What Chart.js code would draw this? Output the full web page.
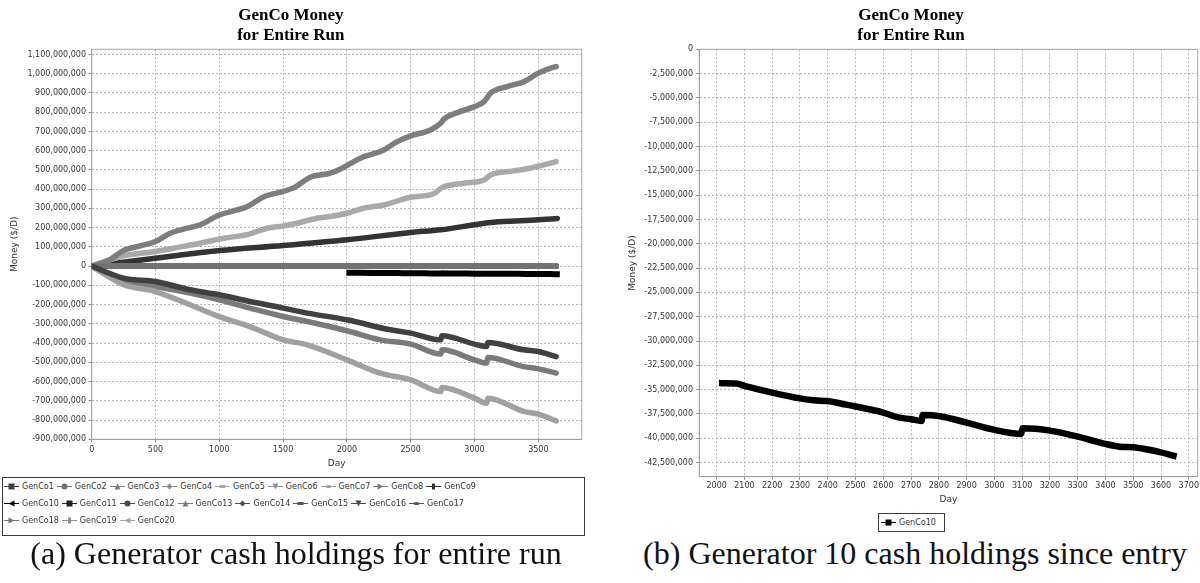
<!DOCTYPE html>
<html>
<head>
<meta charset="utf-8">
<script src="https://cdn.jsdelivr.net/npm/chart.js@4.4.1/dist/chart.umd.min.js"></script>
<style>
  html, body { margin:0; padding:0; background:#fff; }
  body { width:1200px; height:583px; position:relative; overflow:hidden; }
  canvas.chart { position:absolute; top:0; }
  #moneyAll { left:0; }
  #moneyG10 { left:623px; }
  .legend { position:absolute; box-sizing:border-box; border:1px solid #3a3a3a; background:#fff;
            font-family:"DejaVu Sans", sans-serif; font-size:8px; color:#333; }
  .legend .rows { display:flex; flex-wrap:wrap; }
  .legend .item { display:flex; align-items:center; height:17px; margin-right:3px; white-space:nowrap; }
  .legend .item canvas { margin-right:3px; }
  #legendAll { left:2px; top:477px; width:583px; height:59px; padding:0 0 0 1px; }
  #legendAll .rows { width:500px; }
  #legendG10 { left:878px; top:513px; width:67px; height:19px; padding:0 0 0 2px; }
  #legendG10 .item { height:17px; }
  .caption { position:absolute; font-family:"Liberation Serif", serif; font-size:32px; line-height:36px;
             color:#111; white-space:nowrap; transform:translateX(-50%); top:535px; }
  #capA { left:296px; }
  #capB { left:915px; }
</style>
</head>
<body>
<canvas id="moneyAll" class="chart" width="590" height="472"></canvas>
<canvas id="moneyG10" class="chart" width="577" height="506"></canvas>
<div id="legendAll" class="legend"><div class="rows"></div></div>
<div id="legendG10" class="legend"><div class="rows"></div></div>
<div id="capA" class="caption">(a) Generator cash holdings for entire run</div>
<div id="capB" class="caption">(b) Generator 10 cash holdings since entry</div>
<script>
// Money held by each generator company, as [day, millions of dollars]
const MILLION = 1e6;

const genco1 = [[0,0],[250,-62],[500,-80],[770,-123],[1000,-149],[1240,-184],[1500,-218],[1690,-244],
  [2000,-279],[2340,-331],[2500,-348],[2735,-383],[2745,-362],[3000,-405],[3095,-418],[3105,-397],
  [3385,-435],[3500,-444],[3640,-470]];
const genco3 = [[0,0],[140,33],[250,81],[380,105],[500,128],[615,171],[720,192],[850,215],[1000,266],
  [1140,292],[1220,310],[1350,361],[1500,388],[1585,408],[1715,462],[1870,483],[1950,505],[2105,561],
  [2290,604],[2395,647],[2500,677],[2655,708],[2735,743],[2760,764],[2865,798],[3000,829],[3075,855],
  [3125,899],[3255,933],[3390,959],[3500,1003],[3570,1023],[3640,1037]];
const genco5 = [[0,0],[250,53],[500,76],[640,93],[850,119],[1035,145],[1215,163],[1375,197],[1500,209],
  [1610,223],[1765,249],[1870,258],[2000,275],[2130,301],[2290,318],[2500,358],[2680,376],[2745,408],
  [2915,431],[3075,448],[3125,474],[3305,495],[3435,509],[3640,543]];
const genco7 = [[0,0],[250,-97],[500,-132],[770,-201],[1000,-262],[1240,-314],[1500,-383],[1690,-409],
  [2000,-487],[2260,-556],[2500,-591],[2735,-652],[2745,-631],[3000,-686],[3095,-712],[3105,-686],
  [3385,-755],[3500,-769],[3640,-804]];
const genco8 = [[0,0],[250,-76],[500,-106],[770,-140],[1000,-175],[1240,-218],[1500,-262],[1690,-288],
  [2000,-336],[2260,-383],[2500,-405],[2735,-457],[2745,-435],[3000,-487],[3095,-504],[3105,-475],
  [3385,-522],[3500,-534],[3640,-556]];
const genco9 = [[0,0],[500,41],[1000,81],[1500,107],[2000,137],[2500,175],[2735,189],[3000,215],
  [3125,227],[3500,241],[3650,248]];
// GenCo10 enters the market around day 2020
const genco10 = [[2020,-34.33],[2070,-34.36],[2100,-34.6],[2200,-35.3],[2300,-35.9],[2350,-36.1],
  [2400,-36.17],[2450,-36.45],[2500,-36.73],[2600,-37.35],[2650,-37.83],[2700,-38.04],[2738,-38.21],
  [2742,-37.6],[2800,-37.7],[2900,-38.39],[3000,-39.14],[3066,-39.48],[3096,-39.55],[3102,-38.97],
  [3200,-39.21],[3300,-39.83],[3400,-40.58],[3450,-40.86],[3500,-40.93],[3546,-41.13],[3600,-41.44],
  [3645,-41.79]];
// companies that never earn or lose money
const idleGenco = [[0,0],[3640,0]];

const gencoNames = ['GenCo1','GenCo2','GenCo3','GenCo4','GenCo5','GenCo6','GenCo7','GenCo8','GenCo9','GenCo10',
  'GenCo11','GenCo12','GenCo13','GenCo14','GenCo15','GenCo16','GenCo17','GenCo18','GenCo19','GenCo20'];
const gencoSeries = [genco1, idleGenco, genco3, idleGenco, genco5, idleGenco, genco7, genco8, genco9, genco10,
  idleGenco, idleGenco, idleGenco, idleGenco, idleGenco, idleGenco, idleGenco, idleGenco, idleGenco, idleGenco];

// axis ticks
const allDayTicks = [0, 500, 1000, 1500, 2000, 2500, 3000, 3500];
const allMoneyTicks = [-900e6,-800e6,-700e6,-600e6,-500e6,-400e6,-300e6,-200e6,-100e6,0,
  100e6,200e6,300e6,400e6,500e6,600e6,700e6,800e6,900e6,1000e6,1100e6];
const g10DayTicks = [2000,2100,2200,2300,2400,2500,2600,2700,2800,2900,3000,3100,3200,3300,3400,3500,3600,3700];
const g10MoneyTicks = [0,-2.5e6,-5e6,-7.5e6,-10e6,-12.5e6,-15e6,-17.5e6,-20e6,-22.5e6,-25e6,-27.5e6,
  -30e6,-32.5e6,-35e6,-37.5e6,-40e6,-42.5e6];

// styling
const gencoColors = ['#404040','#727272','#7d7d7d','#8a8a8a','#a9a9a9','#909090','#a0a0a0','#7a7a7a','#333333','#000000',
  '#222222','#4a4a4a','#777777','#4a4a4a','#555555','#4a4a4a','#555555','#777777','#909090','#a5a5a5'];
const markerShapes = ['square','circle','triangleUp','diamond','rectH','triangleDown','ellipse','triangleRight','rectV','triangleLeft'];

Chart.defaults.font.family = '"DejaVu Sans", sans-serif';
Chart.defaults.color = '#333';

const commaFmt = v => Math.round(v).toLocaleString('en-US');
const toPoints = s => s.map(([d, m]) => ({ x: d, y: m * MILLION }));

const plotFrame = {
  id: 'plotFrame',
  beforeDatasetsDraw(chart) {
    const { ctx, chartArea: a } = chart;
    ctx.save();
    ctx.strokeStyle = '#a8a8a8';
    ctx.lineWidth = 1;
    ctx.strokeRect(a.left, a.top, a.right - a.left, a.bottom - a.top);
    ctx.restore();
  }
};

function axis(o) {
  return {
    type: 'linear', min: o.min, max: o.max,
    afterBuildTicks: s => { s.ticks = o.ticks.map(v => ({ value: v })); },
    afterFit: s => { if (o.width !== undefined) s.width = o.width; if (o.height !== undefined) s.height = o.height; },
    ticks: { font: { size: 8 }, color: '#333', padding: o.pad, autoSkip: false, maxRotation: 0, callback: o.fmt },
    grid: { color: '#b4b4b4', lineWidth: 1, tickLength: 3, tickColor: '#888', tickBorderDash: [] },
    border: { display: true, color: '#888', width: 1, dash: [2, 2] },
    title: { display: true, text: o.title, font: { size: 9 }, color: '#333', padding: o.titlePad }
  };
}

const titleOpts = {
  display: true, text: ['GenCo Money', 'for Entire Run'], color: '#000',
  font: { family: '"Liberation Serif", serif', size: 17, weight: 'bold', lineHeight: 1.15 },
  padding: { top: 6, bottom: 4.2 }
};

const allChart = new Chart(document.getElementById('moneyAll'), {
  type: 'line',
  data: {
    datasets: gencoSeries.map((s, i) => ({
      label: gencoNames[i], data: toPoints(s), borderColor: gencoColors[i], backgroundColor: gencoColors[i],
      borderWidth: i === 9 ? 6 : 5.5, borderCapStyle: i === 9 ? 'square' : 'round'
    }))
  },
  options: {
    responsive: false, animation: false, devicePixelRatio: 1,
    layout: { padding: { left: 0, right: 8.3, top: 0, bottom: 0 } },
    elements: { point: { radius: 0 }, line: { cubicInterpolationMode: 'monotone', borderJoinStyle: 'round' } },
    plugins: { legend: { display: false }, tooltip: { enabled: false }, title: titleOpts },
    scales: {
      x: axis({ min: 0, max: 3840, ticks: allDayTicks, height: 32.7, pad: 2.5, fmt: v => String(v),
                title: 'Day', titlePad: { top: 0, bottom: 2.6 } }),
      y: axis({ min: -900e6, max: 1127e6, ticks: allMoneyTicks, width: 91.7, pad: 2.7, fmt: commaFmt,
                title: 'Money ($/D)', titlePad: { top: 9.6, bottom: 0 } })
    }
  },
  plugins: [plotFrame]
});

const g10Chart = new Chart(document.getElementById('moneyG10'), {
  type: 'line',
  data: {
    datasets: [{ label: gencoNames[9], data: toPoints(genco10), borderColor: '#000', backgroundColor: '#000',
                 borderWidth: 6.5, borderCapStyle: 'square' }]
  },
  options: {
    responsive: false, animation: false, devicePixelRatio: 1,
    layout: { padding: { left: 0, right: 1, top: 0, bottom: 0 } },
    elements: { point: { radius: 0 }, line: { cubicInterpolationMode: 'monotone', borderJoinStyle: 'miter' } },
    plugins: { legend: { display: false }, tooltip: { enabled: false }, title: titleOpts },
    scales: {
      x: axis({ min: 1937.5, max: 3732, ticks: g10DayTicks, height: 29.3, pad: 1, fmt: v => String(v),
                title: 'Day', titlePad: { top: 0, bottom: 0.6 } }),
      y: axis({ min: -43.95e6, max: 0, ticks: g10MoneyTicks, width: 76.3, pad: 3.3, fmt: commaFmt,
                title: 'Money ($/D)', titlePad: { top: 4.6, bottom: 0 } })
    }
  },
  plugins: [plotFrame]
});

// legend icons: short line with the series marker
function markerIcon(shape, color) {
  const c = document.createElement('canvas');
  c.width = 15; c.height = 9;
  const g = c.getContext('2d');
  g.strokeStyle = color; g.fillStyle = color; g.lineWidth = 1;
  g.beginPath(); g.moveTo(0, 4.5); g.lineTo(15, 4.5); g.stroke();
  const cx = 7.5, cy = 4.5, r = 3;
  g.beginPath();
  switch (shape) {
    case 'square': g.rect(cx - r, cy - r, 2 * r, 2 * r); break;
    case 'circle': g.arc(cx, cy, r, 0, 2 * Math.PI); break;
    case 'triangleUp': g.moveTo(cx, cy - r); g.lineTo(cx + r, cy + r); g.lineTo(cx - r, cy + r); break;
    case 'diamond': g.moveTo(cx, cy - r); g.lineTo(cx + r, cy); g.lineTo(cx, cy + r); g.lineTo(cx - r, cy); break;
    case 'rectH': g.rect(cx - r, cy - r / 2, 2 * r, r); break;
    case 'triangleDown': g.moveTo(cx - r, cy - r); g.lineTo(cx + r, cy - r); g.lineTo(cx, cy + r); break;
    case 'ellipse': g.ellipse(cx, cy, r, r / 2, 0, 0, 2 * Math.PI); break;
    case 'triangleRight': g.moveTo(cx - r, cy - r); g.lineTo(cx + r, cy); g.lineTo(cx - r, cy + r); break;
    case 'rectV': g.rect(cx - r / 2, cy - r, r, 2 * r); break;
    case 'triangleLeft': g.moveTo(cx + r, cy - r); g.lineTo(cx - r, cy); g.lineTo(cx + r, cy + r); break;
  }
  g.closePath(); g.fill();
  return c;
}

function buildLegend(chart, boxId, shapeOf) {
  const rows = document.querySelector('#' + boxId + ' .rows');
  chart.data.datasets.forEach((ds, i) => {
    const item = document.createElement('div');
    item.className = 'item';
    item.appendChild(markerIcon(shapeOf(i), ds.borderColor));
    const t = document.createElement('span');
    t.textContent = ds.label;
    item.appendChild(t);
    rows.appendChild(item);
  });
}
buildLegend(allChart, 'legendAll', i => markerShapes[i % markerShapes.length]);
buildLegend(g10Chart, 'legendG10', () => 'square');
</script>
</body>
</html>
